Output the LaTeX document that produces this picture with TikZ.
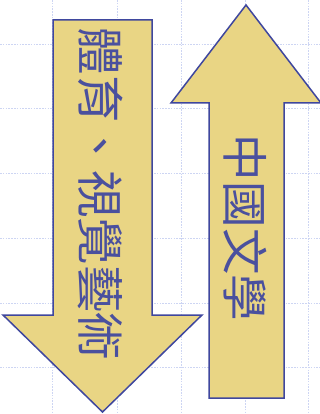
\documentclass[tikz,border=0pt]{standalone}
\usepackage{fontspec}
\newfontfamily\cjk{Noto Sans CJK TC}
\definecolor{gridc}{HTML}{CDD5F3}
\definecolor{fillc}{HTML}{E9D584}
\definecolor{linec}{HTML}{3F479E}
\definecolor{textc}{HTML}{4A509E}
\tikzset{
  gridline/.style={draw=gridc, line width=1pt, dash pattern=on 1.6pt off 1.2pt},
  arrowshape/.style={fill=fillc, draw=linec, line width=1.5pt, line join=miter},
  vtext/.style={text=textc, rotate=-90, inner sep=0pt}
}
\begin{document}
\begin{tikzpicture}[x=1pt,y=-1pt]
\useasboundingbox (0,0) rectangle (320,414);
\fill[white] (0,0) rectangle (320,414);
\foreach \gx in {52,117,181,245,308} \draw[gridline] (\gx,0) -- (\gx,414);
\foreach \gy in {45,109,173,238,303,367} \draw[gridline] (0,\gy) -- (320,\gy);
% down arrow
\draw[arrowshape] (53,20) -- (152,20) -- (152,315) -- (202,315) -- (102.5,412) -- (3,315) -- (53,315) -- cycle;
% up arrow
\draw[arrowshape] (246,5) -- (321,103) -- (284,103) -- (284,398) -- (209,398) -- (209,103) -- (171,103) -- cycle;
\node[vtext, font=\cjk\fontsize{47.5}{48}\selectfont] (left) at (100,194) {體育、視覺藝術};
\node[vtext, font=\cjk\fontsize{46.5}{48}\selectfont] (right) at (245,228) {中國文學};
\end{tikzpicture}
\end{document}
